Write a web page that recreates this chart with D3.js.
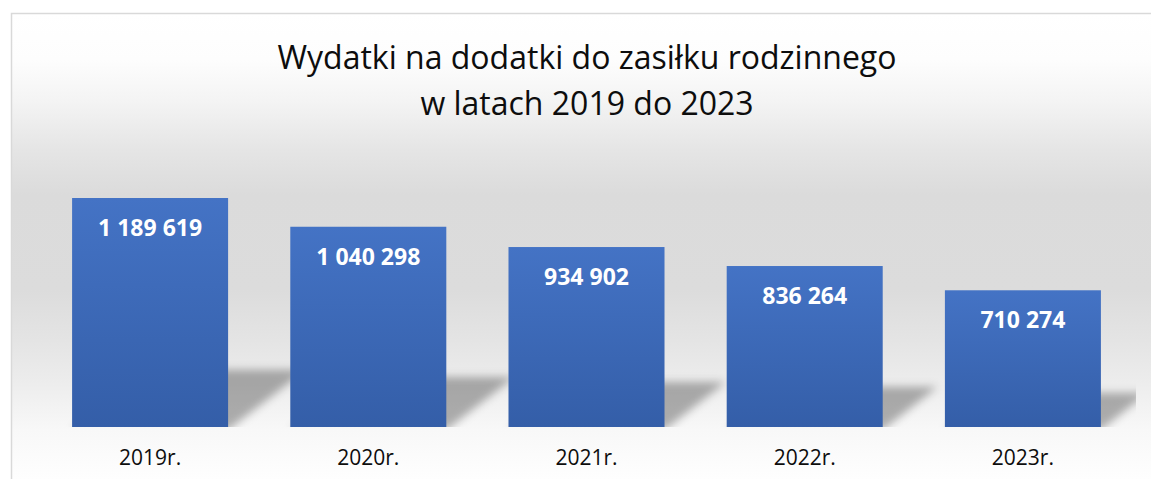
<!DOCTYPE html>
<html>
<head>
<meta charset="utf-8">
<script src="https://cdn.jsdelivr.net/npm/d3@7"></script>
<style>
    body { margin: 0; background: #fff; }
    svg { display: block; }
</style>
</head>
<body>
<div id="svg-container"></div>
<script>
var years = ["2019r.", "2020r.", "2021r.", "2022r.", "2023r."];
var values = [1189619, 1040298, 934902, 836264, 710274];
var titleLines = ["Wydatki na dodatki do zasiłku rodzinnego", "w latach 2019 do 2023"];

var W = 1151, H = 479;
var base = 427;
var x, y;

function init() {
    d3.select("#svg-container").append("svg")
        .attr("width", W)
        .attr("height", H)
        .attr("class", "chart-svg");
    x = d3.scaleBand()
        .domain(years)
        .range([41, 1132])
        .paddingInner(0.285)
        .paddingOuter(0.1425);
    y = d3.scaleLinear()
        .domain([0, 1400000])
        .range([base, base - 1400000 / 5195]);
    drawBackground();
    drawTitle();
    drawShadows();
    drawBars();
    drawLabels();
}

function fmt(v) {
    // polish style: space as thousands separator
    return d3.format(",")(v).replace(/,/g, " ");
}

function drawBackground() {
    var svg = d3.select(".chart-svg");
    var defs = svg.append("defs");
    var stops = [[14, "#ffffff"], [60, "#fdfdfd"], [100, "#f4f4f4"], [150, "#e5e5e5"],
                 [195, "#dbdbdb"], [290, "#dcdcdc"], [340, "#e4e4e4"], [380, "#ececec"],
                 [430, "#f8f8f8"], [479, "#fefefe"]];
    var bg = defs.append("linearGradient")
        .attr("id", "bg-grad")
        .attr("gradientUnits", "userSpaceOnUse")
        .attr("x1", 0).attr("x2", 0).attr("y1", 14).attr("y2", 479);
    bg.selectAll("stop")
        .data(stops)
    .enter().append("stop")
        .attr("offset", function(d) {return (d[0] - 14) / (479 - 14);})
        .attr("stop-color", function(d) {return d[1];});

    var bar = defs.append("linearGradient")
        .attr("id", "bar-grad")
        .attr("x1", 0).attr("x2", 0).attr("y1", 0).attr("y2", 1);
    bar.append("stop").attr("offset", 0).attr("stop-color", "#4473c5");
    bar.append("stop").attr("offset", 1).attr("stop-color", "#345ea8");

    var sh = defs.append("filter")
        .attr("id", "blur")
        .attr("x", "-30%").attr("y", "-30%")
        .attr("width", "160%").attr("height", "160%");
    sh.append("feGaussianBlur").attr("stdDeviation", 4.5);

    defs.append("clipPath")
        .attr("id", "plot-clip")
    .append("rect")
        .attr("x", 12).attr("y", 14)
        .attr("width", 1124).attr("height", base - 14);

    svg.append("rect")
        .attr("x", 11.5)
        .attr("y", 13.5)
        .attr("width", W + 20)
        .attr("height", H + 20)
        .attr("fill", "url(#bg-grad)")
        .attr("stroke", "#d9d9d9")
        .attr("stroke-width", 1.5);
}

function drawTitle() {
    var svg = d3.select(".chart-svg");
    svg.selectAll(".title")
        .data(titleLines)
    .enter().append("text")
        .attr("class", "title")
        .attr("x", 587)
        .attr("y", function(d, i) {return 69 + i * 46;})
        .attr("text-anchor", "middle")
        .attr("font-family", "'Open Sans', sans-serif")
        .attr("font-size", 32)
        .attr("fill", "#0d0d0d")
        .text(function(d) {return d;});
}

function drawShadows() {
    var svg = d3.select(".chart-svg");
    svg.append("g")
        .attr("clip-path", "url(#plot-clip)")
    .selectAll(".shadow")
        .data(values)
    .enter().append("path")
        .attr("class", "shadow")
        .attr("filter", "url(#blur)")
        .attr("fill", "#000")
        .attr("fill-opacity", 0.3)
        .attr("d", function(d, i) {
            var h = base - y(d);
            var x0 = x(years[i]), x1 = x0 + x.bandwidth();
            var dx = h * 0.34, dy = h * 0.25;
            return "M" + x0 + "," + (base + 3) + "L" + x1 + "," + (base + 3) +
                "L" + (x1 + dx) + "," + (base - dy) + "L" + (x0 + dx) + "," + (base - dy) + "Z";
        });
}

function drawBars() {
    var svg = d3.select(".chart-svg");
    svg.selectAll(".bar")
        .data(values)
    .enter().append("rect")
        .attr("class", "bar")
        .attr("x", function(d, i) {return x(years[i]);})
        .attr("y", function(d) {return y(d);})
        .attr("width", x.bandwidth())
        .attr("height", function(d) {return base - y(d);})
        .attr("fill", "url(#bar-grad)");
}

function drawLabels() {
    var svg = d3.select(".chart-svg");
    svg.selectAll(".value")
        .data(values)
    .enter().append("text")
        .attr("class", "value")
        .attr("x", function(d, i) {return x(years[i]) + x.bandwidth() / 2;})
        .attr("y", function(d) {return y(d) + 38;})
        .attr("text-anchor", "middle")
        .attr("font-family", "'Open Sans', sans-serif")
        .attr("font-weight", "bold")
        .attr("font-size", 23)
        .attr("fill", "#fff")
        .text(function(d) {return fmt(d);});

    svg.selectAll(".cat")
        .data(years)
    .enter().append("text")
        .attr("class", "cat")
        .attr("x", function(d) {return x(d) + x.bandwidth() / 2;})
        .attr("y", 465)
        .attr("text-anchor", "middle")
        .attr("font-family", "'Open Sans', sans-serif")
        .attr("font-size", 21)
        .attr("fill", "#0d0d0d")
        .text(function(d) {return d;});
}

init();
</script>
</body>
</html>
